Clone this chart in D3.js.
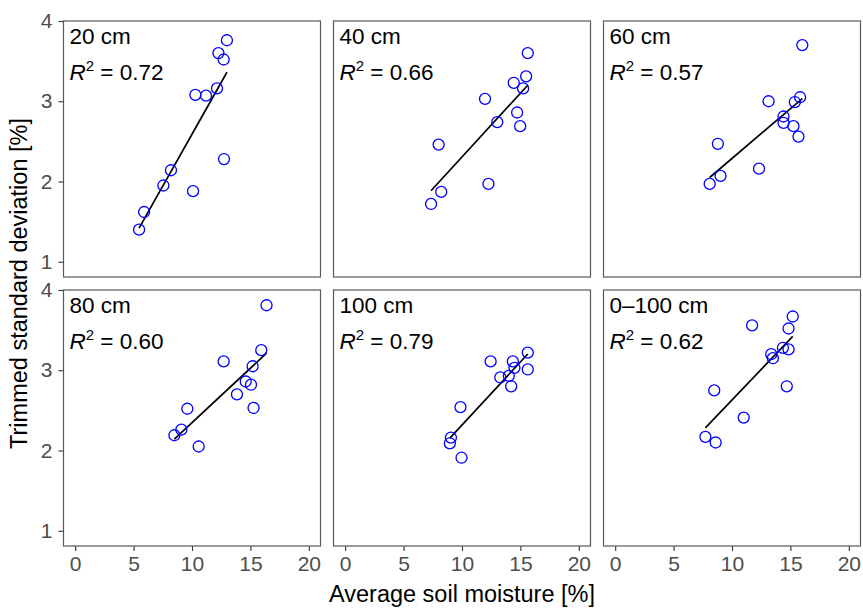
<!DOCTYPE html>
<html>
<head>
<meta charset="utf-8">
<script src="https://cdn.jsdelivr.net/npm/d3@7"></script>
<style>
  body { margin: 0; background: #fff; }
  text { font-family: "Liberation Sans", Arial, sans-serif; }
</style>
</head>
<body>
<div id="chart"></div>
<script>
/**
 * DATA
 * */
const depths = ["20 cm", "40 cm", "60 cm", "80 cm", "100 cm", "0\u2013100 cm"];
const r2Labels = ["0.72", "0.66", "0.57", "0.60", "0.79", "0.62"];

const moisture20 = [5.47, 5.9, 7.55, 8.2, 10.09, 10.29, 11.2, 12.14, 12.26, 12.71, 12.74, 12.99];
const sd20 = [1.40, 1.62, 1.95, 2.14, 1.88, 3.08, 3.07, 3.16, 3.60, 3.52, 2.28, 3.76];

const moisture40 = [7.35, 8.22, 8.0, 12.26, 11.97, 13.02, 14.43, 14.72, 14.98, 15.23, 15.49, 15.63];
const sd40 = [1.72, 1.87, 2.46, 1.97, 3.03, 2.74, 3.23, 2.86, 2.69, 3.16, 3.31, 3.60];

const moisture60 = [8.09, 9.02, 8.79, 12.31, 13.13, 14.41, 14.41, 15.26, 15.38, 15.69, 15.83, 16.02];
const sd60 = [1.97, 2.07, 2.47, 2.16, 3.00, 2.81, 2.73, 2.69, 2.99, 2.56, 3.05, 3.70];

const moisture80 = [8.49, 9.09, 9.6, 10.57, 12.71, 13.85, 14.6, 15.05, 15.19, 15.27, 15.93, 16.38];
const sd80 = [2.19, 2.26, 2.52, 2.05, 3.11, 2.70, 2.86, 2.82, 3.05, 2.53, 3.25, 3.81];

const moisture100 = [8.96, 9.05, 9.87, 9.96, 12.45, 13.28, 14.01, 14.21, 14.35, 14.49, 15.63, 15.63];
const sd100 = [2.09, 2.16, 2.54, 1.91, 3.11, 2.91, 2.93, 2.80, 3.11, 3.03, 3.22, 3.01];

const moistureAll = [7.72, 8.6, 8.48, 11.0, 11.72, 13.36, 13.5, 14.36, 14.84, 14.69, 14.84, 15.2];
const sdAll = [2.17, 2.10, 2.75, 2.41, 3.56, 3.20, 3.15, 3.28, 3.26, 2.80, 3.52, 3.67];

const xTicks = [0, 5, 10, 15, 20];
const yTicks = [1, 2, 3, 4];

const moistureSeries = [moisture20, moisture40, moisture60, moisture80, moisture100, moistureAll];
const sdSeries = [sd20, sd40, sd60, sd80, sd100, sdAll];

/**
 * CONSTANTS
 * */
const width = 863,
  height = 608,
  panelW = 257,
  panelH = 256,
  colLeft = [63.5, 333.5, 603.5],
  rowTop = [21, 290];

const svg = d3.select("#chart").append("svg")
  .attr("width", width)
  .attr("height", height);

const x = d3.scaleLinear().domain([-1, 21]).range([0, panelW]);
const y = d3.scaleLinear().domain([0.81, 4.0]).range([panelH, 0]);

// least squares fit, used for the black line in each panel
function linearFit(xs, ys) {
  const mx = d3.mean(xs), my = d3.mean(ys);
  let sxy = 0, sxx = 0;
  xs.forEach((v, i) => {
    sxy += (v - mx) * (ys[i] - my);
    sxx += (v - mx) * (v - mx);
  });
  const slope = sxy / sxx;
  return { slope, intercept: my - slope * mx };
}

function styleAxis(sel) {
  sel.select(".domain").remove();
  sel.selectAll("line").attr("stroke", "#333").attr("stroke-width", 1.1);
  sel.selectAll("text").attr("font-size", 21).attr("fill", "#4d4d4d")
    .style("font-family", "Liberation Sans, Arial, sans-serif");
}

depths.forEach((depth, i) => {
  const col = i % 3, row = Math.floor(i / 3);
  const g = svg.append("g")
    .attr("transform", `translate(${colLeft[col]},${rowTop[row]})`);

  const pts = moistureSeries[i].map((m, j) => ({ m, s: sdSeries[i][j] }));

  // y axis only on the first column, x axis only on the bottom row
  if (col === 0) {
    g.append("g")
      .call(d3.axisLeft(y).tickValues(yTicks).tickFormat(d3.format("d")).tickSize(5).tickPadding(6))
      .call(styleAxis);
  }
  if (row === 1) {
    g.append("g").attr("transform", `translate(0,${panelH})`)
      .call(d3.axisBottom(x).tickValues(xTicks).tickFormat(d3.format("d")).tickSize(5).tickPadding(5))
      .call(styleAxis);
  }

  // regression line over the range of the data
  const fit = linearFit(moistureSeries[i], sdSeries[i]);
  const [x0, x1] = d3.extent(moistureSeries[i]);
  g.append("line")
    .attr("x1", x(x0)).attr("y1", y(fit.intercept + fit.slope * x0))
    .attr("x2", x(x1)).attr("y2", y(fit.intercept + fit.slope * x1))
    .attr("stroke", "black")
    .attr("stroke-width", 1.7);

  g.selectAll("circle")
    .data(pts)
    .join("circle")
    .attr("cx", d => x(d.m))
    .attr("cy", d => y(d.s))
    .attr("r", 5.5)
    .attr("fill", "none")
    .attr("stroke", "#0000ff")
    .attr("stroke-width", 1.3);

  g.append("rect")
    .attr("width", panelW).attr("height", panelH)
    .attr("fill", "none")
    .attr("stroke", "#595959")
    .attr("stroke-width", 1.2);

  g.append("text")
    .attr("x", 6).attr("y", 23)
    .attr("font-size", 22.5)
    .text(depth);

  const r2 = g.append("text")
    .attr("x", 6).attr("y", 59)
    .attr("font-size", 22.5);
  r2.append("tspan").attr("font-style", "italic").text("R");
  r2.append("tspan").attr("dy", -9).attr("font-size", 15).text("2");
  r2.append("tspan").attr("dy", 9).text(" = " + r2Labels[i]);
});

// axis titles
svg.append("text")
  .attr("x", (colLeft[0] + colLeft[2] + panelW) / 2)
  .attr("y", 602)
  .attr("text-anchor", "middle")
  .attr("font-size", 23.5)
  .text("Average soil moisture [%]");

svg.append("text")
  .attr("transform", `translate(27,${(rowTop[0] + rowTop[1] + panelH) / 2}) rotate(-90)`)
  .attr("text-anchor", "middle")
  .attr("font-size", 23.5)
  .text("Trimmed standard deviation [%]");
</script>
</body>
</html>
